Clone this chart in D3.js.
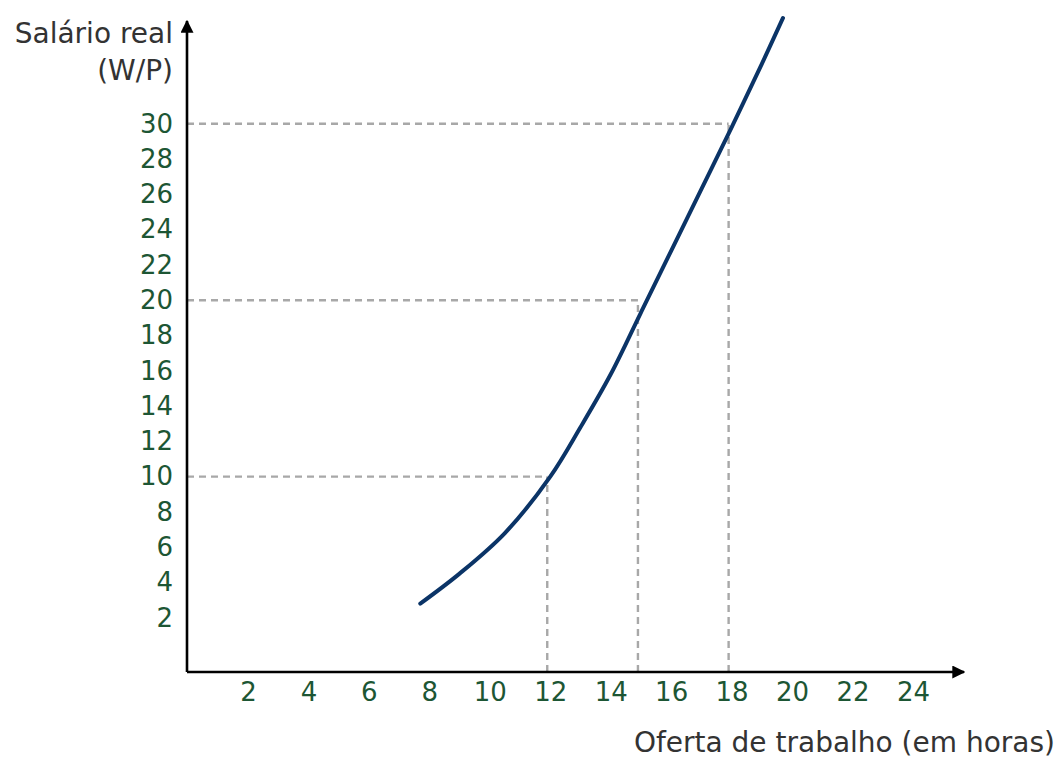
<!DOCTYPE html>
<html>
<head>
<meta charset="utf-8">
<script src="https://cdn.jsdelivr.net/npm/d3@7"></script>
<style>
  body { margin: 0; background: #fff; }
  svg { display: block; }
  .tick text { font-family: "DejaVu Sans", Verdana, sans-serif; font-size: 26px; fill: #1d5634; }
  .title { font-family: "DejaVu Sans", Verdana, sans-serif; font-size: 28px; fill: #333; }
</style>
</head>
<body>
<div id="chart"></div>
<script>
'use strict';

// supply curve
const hours = [7.7, 9.0, 10.5, 12.0, 13.0, 14.0, 15.0, 16.0, 17.0, 18.0, 19.0, 19.7];
const wage = [2.8, 4.5, 6.8, 10.0, 12.8, 15.8, 19.3, 22.8, 26.3, 29.8, 33.4, 36.0];

// dashed guide points
const guideHours = [12, 15, 18];
const guideWage = [10, 20, 30];

const xTicks = [2, 4, 6, 8, 10, 12, 14, 16, 18, 20, 22, 24];
const yTicks = [2, 4, 6, 8, 10, 12, 14, 16, 18, 20, 22, 24, 26, 28, 30];

const yTitle = ['Salário real', '(W/P)'];
const xTitle = 'Oferta de trabalho (em horas)';

const width = 1059;
const height = 760;
const originX = 187;
const originY = 672;

const x = d3.scaleLinear().domain([0, 24]).range([187.5, 913]);
const y = d3.scaleLinear().domain([0, 30]).range([653, 123.8]);

const svg = d3.select('#chart').append('svg')
    .attr('width', width)
    .attr('height', height);

svg.append('defs').append('marker')
    .attr('id', 'arrow')
    .attr('viewBox', '0 0 10 10')
    .attr('refX', 9)
    .attr('refY', 5)
    .attr('markerWidth', 5)
    .attr('markerHeight', 5)
    .attr('markerUnits', 'strokeWidth')
    .attr('orient', 'auto')
    .append('path')
    .attr('d', 'M0,0 L10,5 L0,10 Z')
    .attr('fill', '#000');

// dashed guides
guideHours.forEach(function(h, i) {
    var w = guideWage[i];
    svg.append('line')
        .attr('x1', originX).attr('y1', y(w))
        .attr('x2', x(h) - 3).attr('y2', y(w))
        .attr('stroke', '#a8a8a8').attr('stroke-width', 2.4)
        .attr('stroke-dasharray', '7,5');
    svg.append('line')
        .attr('x1', x(h) - 3).attr('y1', originY)
        .attr('x2', x(h) - 3).attr('y2', y(w))
        .attr('stroke', '#a8a8a8').attr('stroke-width', 2.4)
        .attr('stroke-dasharray', '7,5');
});

// axes lines with arrows
svg.append('line')
    .attr('x1', originX).attr('y1', originY)
    .attr('x2', 964).attr('y2', originY)
    .attr('stroke', '#000').attr('stroke-width', 2.6)
    .attr('marker-end', 'url(#arrow)');
svg.append('line')
    .attr('x1', originX).attr('y1', originY)
    .attr('x2', originX).attr('y2', 21)
    .attr('stroke', '#000').attr('stroke-width', 2.6)
    .attr('marker-end', 'url(#arrow)');

// tick labels
svg.append('g')
    .attr('transform', 'translate(0,' + originY + ')')
    .call(d3.axisBottom(x).tickValues(xTicks).tickSize(0).tickPadding(11))
    .call(g => g.select('.domain').remove());

svg.append('g')
    .attr('transform', 'translate(' + originX + ',0)')
    .call(d3.axisLeft(y).tickValues(yTicks).tickSize(0).tickPadding(14))
    .call(g => g.select('.domain').remove());

svg.selectAll('.tick text').attr('font-family', null).attr('font-size', null).attr('fill', null);

// curve
const line = d3.line()
    .x((d, i) => x(hours[i]))
    .y(d => y(d))
    .curve(d3.curveCatmullRom.alpha(0.5));

svg.append('path')
    .datum(wage)
    .attr('d', line)
    .attr('fill', 'none')
    .attr('stroke', '#0b3467')
    .attr('stroke-width', 4)
    .attr('stroke-linecap', 'round');

// titles
svg.append('text')
    .attr('class', 'title')
    .attr('text-anchor', 'end')
    .selectAll('tspan')
    .data(yTitle)
    .join('tspan')
    .attr('x', 173)
    .attr('y', (d, i) => 43 + i * 37)
    .text(d => d);

svg.append('text')
    .attr('class', 'title')
    .attr('text-anchor', 'end')
    .attr('x', 1055)
    .attr('y', 752)
    .text(xTitle);
</script>
</body>
</html>
